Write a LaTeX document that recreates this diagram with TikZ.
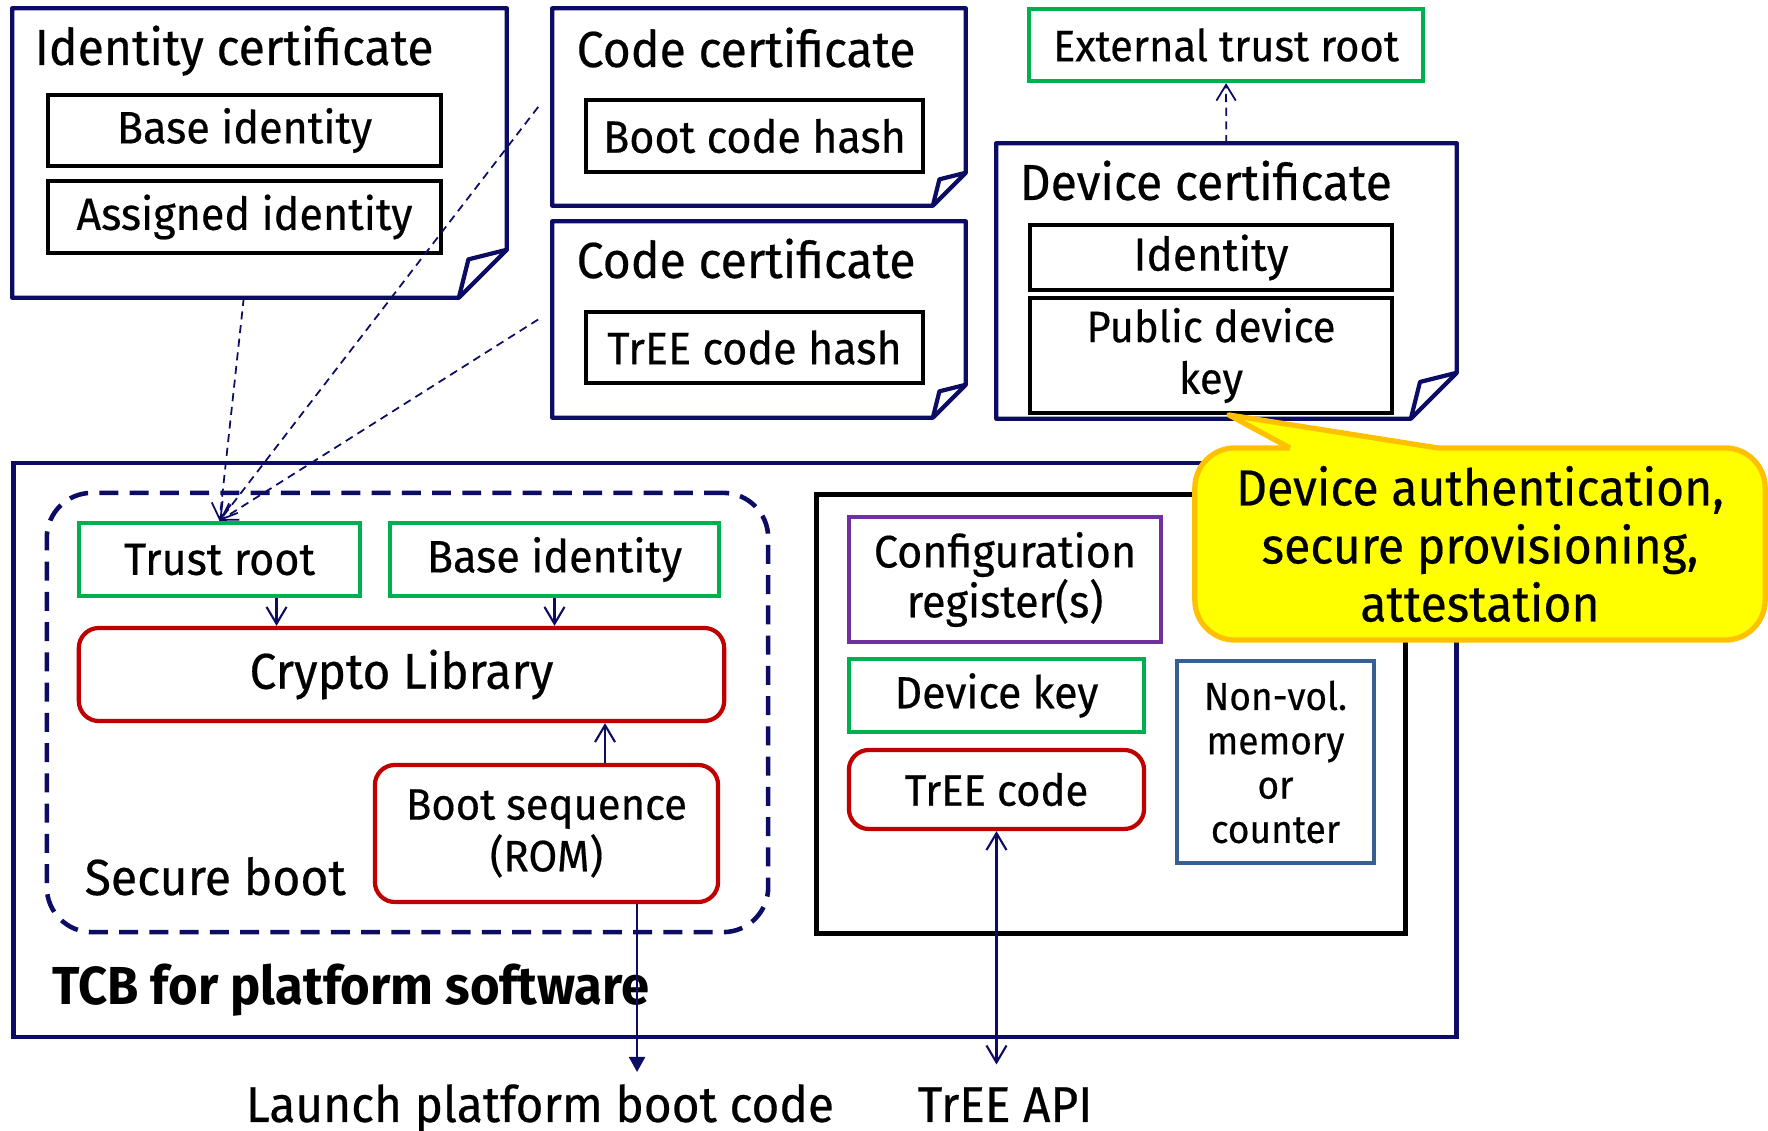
\documentclass[tikz,border=0pt]{standalone}
\usepackage{fontspec}
\setmainfont{Fira Sans}[FakeStretch=0.95, UprightFeatures={FakeBold=0.4}]
\usetikzlibrary{arrows.meta,calc}

\definecolor{certblue}{RGB}{12,12,100}
\definecolor{keygreen}{RGB}{0,176,80}
\definecolor{codered}{RGB}{192,0,0}
\definecolor{regpurple}{RGB}{112,48,160}
\definecolor{memblue}{RGB}{55,96,146}
\definecolor{noteyellow}{RGB}{255,255,0}
\definecolor{noteorange}{RGB}{255,192,0}

\newcommand{\szTitle}{\fontsize{14.4}{17}\selectfont}
\newcommand{\szBig}{\fontsize{14.3}{18}\selectfont}
\newcommand{\szBox}{\fontsize{12.9}{14.2}\selectfont}
\newcommand{\szSmall}{\fontsize{12.5}{14.7}\selectfont}
\newcommand{\szTiny}{\fontsize{11.1}{12.6}\selectfont}
\newcommand{\szNote}{\fontsize{14.4}{16.5}\selectfont}
\newcommand{\szOut}{\fontsize{14.3}{16}\selectfont}

\tikzstyle{certbox}=[rectangle, draw=none, inner sep=0pt]
\tikzstyle{certline}=[draw=certblue, line width=1.2pt, line join=round]
\tikzstyle{certtitle}=[anchor=base west, inner sep=0pt, font=\szTitle]
\tikzstyle{fieldbox}=[rectangle, draw=black, line width=1.3pt, inner sep=0pt, align=center, font=\szBox]
\tikzstyle{rootbox}=[rectangle, draw=keygreen, line width=1.2pt, inner sep=0pt, align=center, font=\szBox]
\tikzstyle{codebox}=[rectangle, rounded corners=0.2cm, draw=codered, line width=1.2pt, inner sep=0pt, align=center, font=\szBox]
\tikzstyle{regbox}=[rectangle, draw=regpurple, line width=1.2pt, inner sep=0pt, align=center, font=\szBox]
\tikzstyle{membox}=[rectangle, draw=memblue, line width=1.2pt, inner sep=0pt, align=center, font=\szTiny]
\tikzstyle{tcbbox}=[rectangle, draw=certblue, line width=1.2pt, inner sep=0pt]
\tikzstyle{teebox}=[rectangle, draw=black, line width=1.4pt, inner sep=0pt]
\tikzstyle{bootzone}=[rectangle, rounded corners=0.45cm, draw=certblue, line width=1.3pt, dash pattern=on 5.4pt off 3.2pt, inner sep=0pt]
\tikzstyle{note}=[rectangle, rounded corners=0.4cm, fill=noteyellow, draw=noteorange, line width=1.5pt, inner sep=0pt, align=center, font=\szNote]
\tikzstyle{plain}=[inner sep=0pt, outer sep=3.5pt, font=\szOut]
\tikzstyle{trustedge}=[draw=certblue, line width=0.5pt, dash pattern=on 2.3pt off 1.6pt, -{Straight Barb[length=4.5pt,width=5.5pt]}]
\tikzstyle{flowedge}=[draw=certblue, line width=0.6pt, -{Straight Barb[length=4.8pt,width=5.7pt]}]
\tikzstyle{apiedge}=[draw=certblue, line width=0.6pt, {Straight Barb[length=4.8pt,width=5.7pt]}-{Straight Barb[length=4.8pt,width=5.7pt]}]
\tikzstyle{launchedge}=[draw=certblue, line width=0.6pt, -{Triangle[length=4.3pt,width=4.6pt]}]

% certificate outline with folded corner: node, fold size
\newcommand{\certoutline}[2]{%
  \draw[certline] (#1.north west) -- (#1.north east) -- ([yshift=#2]#1.south east)
    -- ([xshift=-#2]#1.south east) -- (#1.south west) -- cycle;
  \draw[certline] ([yshift=#2]#1.south east) -- ([xshift=-0.8*#2,yshift=0.8*#2]#1.south east)
    -- ([xshift=-#2]#1.south east);
}

\begin{document}
\begin{tikzpicture}[x=0.01cm,y=-0.01cm]
        \useasboundingbox (0,0) rectangle (1768,1131);
        % TCB for platform software
        \draw (735,750) node[tcbbox, minimum width=14.42cm, minimum height=5.74cm](tcb){};
        \draw (52,1005) node[certtitle, font=\fontsize{15.2}{17}\selectfont\bfseries](tcblabel){TCB for platform software};
        %
        \draw (407.5,712.5) node[bootzone, minimum width=7.21cm, minimum height=4.39cm](secboot){};
        \draw (84,895) node[certtitle](secbootlabel){Secure boot};
        \draw (219.5,559.5) node[rootbox, minimum width=2.81cm, minimum height=0.73cm](trustroot){Trust root};
        \draw (554.5,559.5) node[rootbox, minimum width=3.29cm, minimum height=0.73cm](baseroot){Base identity};
        \draw (401.5,674.5) node[codebox, minimum width=6.45cm, minimum height=0.93cm, font=\szBig](crypto){Crypto Library};
        \draw (546.5,833.5) node[codebox, minimum width=3.43cm, minimum height=1.37cm, font=\szSmall](bootseq){Boot sequence\\(ROM)};
        %
        \draw (1111,714) node[teebox, minimum width=5.88cm, minimum height=4.38cm](tee){};
        \draw (1005,579.5) node[regbox, minimum width=3.12cm, minimum height=1.25cm](config){Configuration\\register(s)};
        \draw (996.5,695.5) node[rootbox, minimum width=2.95cm, minimum height=0.73cm, font=\fontsize{12.8}{14}\selectfont](devkey){Device key};
        \draw (996.5,789.5) node[codebox, minimum width=2.95cm, minimum height=0.79cm, font=\szSmall](treecode){TrEE code};
        \draw (1275.5,762) node[membox, minimum width=1.97cm, minimum height=2.02cm](nonvol){Non-vol.\\memory\\or\\counter};
        %
        \draw (540,1122) node[plain, anchor=base](launch){Launch platform boot code};
        \draw (1005,1122) node[plain, anchor=base](treeapi){TrEE API};
        %
        % certificates
        \draw (259.5,153) node[certbox, minimum width=4.93cm, minimum height=2.88cm](idcert){};
        \certoutline{idcert}{0.48cm}
        \draw (34,65) node[certtitle](idcerttitle){Identity certificate};
        \draw (244.5,130.5) node[fieldbox, minimum width=3.93cm, minimum height=0.71cm](idbase){Base identity};
        \draw (244.5,217) node[fieldbox, minimum width=3.93cm, minimum height=0.72cm](idassigned){Assigned identity};
        %
        \draw (759,107) node[certbox, minimum width=4.12cm, minimum height=1.96cm](codecertA){};
        \certoutline{codecertA}{0.33cm}
        \draw (576,67) node[certtitle](codetitleA){Code certificate};
        \draw (754.5,136) node[fieldbox, minimum width=3.37cm, minimum height=0.72cm](boothash){Boot code hash};
        %
        \draw (759,319.5) node[certbox, minimum width=4.12cm, minimum height=1.95cm](codecertB){};
        \certoutline{codecertB}{0.33cm}
        \draw (576,278) node[certtitle](codetitleB){Code certificate};
        \draw (754.5,347.5) node[fieldbox, minimum width=3.37cm, minimum height=0.71cm](treehash){TrEE code hash};
        %
        \draw (1226,45) node[rootbox, minimum width=3.94cm, minimum height=0.72cm, font=\szSmall](exttrust){External trust root};
        \draw (1226.5,281) node[certbox, minimum width=4.59cm, minimum height=2.74cm](devcert){};
        \certoutline{devcert}{0.46cm}
        \draw (1019,200) node[certtitle](devtitle){Device certificate};
        \draw (1211,257.5) node[fieldbox, minimum width=3.62cm, minimum height=0.65cm, font=\fontsize{13.2}{14.7}\selectfont](devid){Identity};
        \draw (1211,355.5) node[fieldbox, minimum width=3.62cm, minimum height=1.15cm, font=\szSmall](devpub){Public device\\key};
        %
        \coordinate (codeAin) at ([xshift=-0.14cm]codecertA.west);
        \coordinate (codeBin) at ([xshift=-0.14cm]codecertB.west);
        \coordinate (trustout) at ([xshift=0.57cm]trustroot.south);
        \coordinate (bootup) at ([xshift=0.585cm]bootseq.north);
        \coordinate (bootdown) at ([xshift=0.905cm]bootseq.south);
        \path
            (devcert)               edge[trustedge]     (exttrust)
            (idcert)                edge[trustedge]     (trustroot.north)
            (codeAin)               edge[trustedge]     (trustroot.north)
            (codeBin)               edge[trustedge]     (trustroot.north)
            (trustout)              edge[flowedge]      (trustout |- crypto.north)
            (baseroot.south)        edge[flowedge]      (baseroot.south |- crypto.north)
            (bootup)                edge[flowedge]      (bootup |- crypto.south)
            (bootdown)              edge[launchedge]    (bootdown |- launch.north)
            (treecode.south)        edge[apiedge, shorten >=3pt] (treecode.south |- treeapi.north)
        ;
        %
        % callout
        \draw (1480,544) node[note, minimum width=5.70cm, minimum height=1.92cm](callout){Device authentication,\\secure provisioning,\\attestation};
        \coordinate (notetip) at (1229,415);
        \coordinate (notebaseL) at (1290,448);
        \coordinate (notebaseR) at (1438,448);
        \fill[noteyellow] (notebaseL) -- (notetip) -- (notebaseR) -- ([yshift=-0.07cm]notebaseR) -- ([yshift=-0.07cm]notebaseL) -- cycle;
        \draw[draw=noteorange, line width=1.5pt, line join=round] (notebaseL) -- (notetip) -- (notebaseR);
\end{tikzpicture}
\end{document}
